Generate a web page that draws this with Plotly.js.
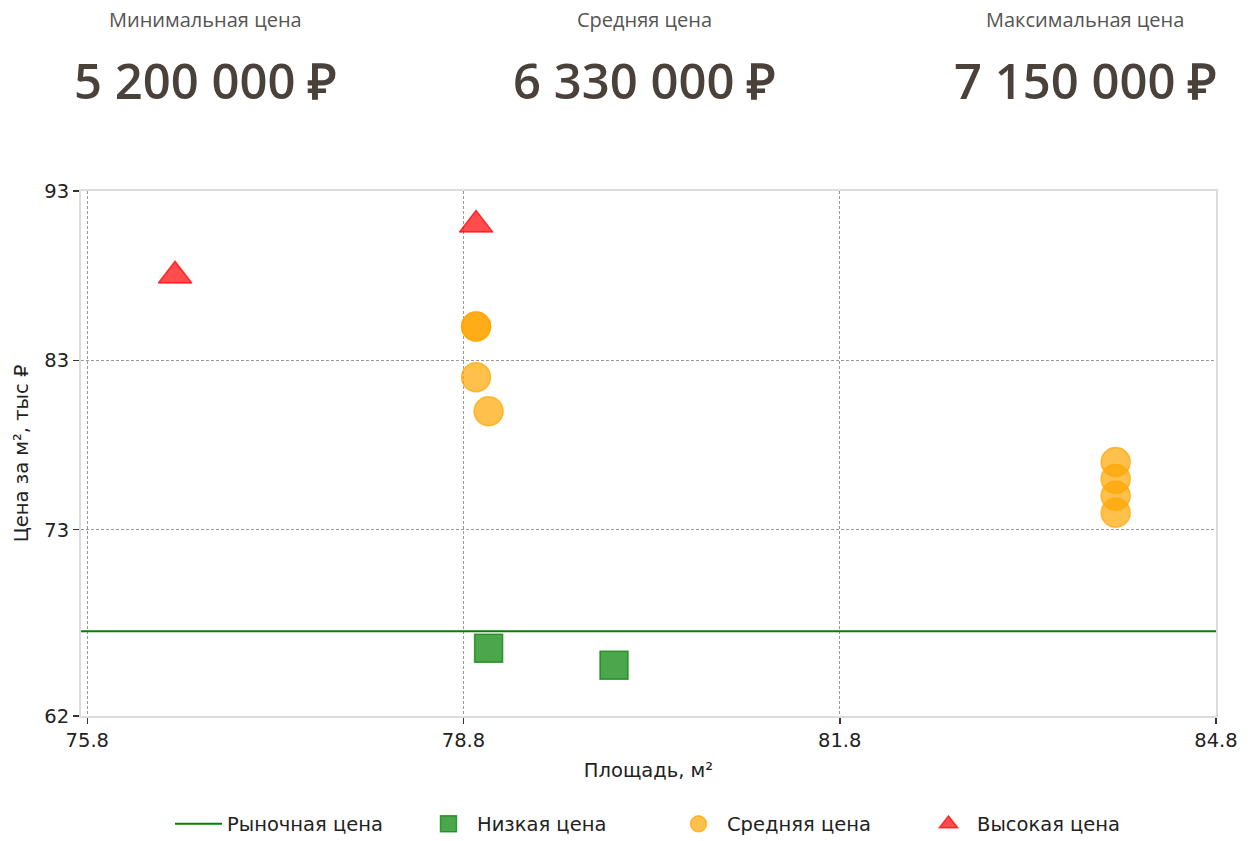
<!DOCTYPE html>
<html>
<head>
<meta charset="utf-8">
<script src="https://cdn.plot.ly/plotly-3.0.1.min.js"></script>
<style>html,body{margin:0;padding:0;background:#fff;}#chart{width:1250px;height:841px;}</style>
</head>
<body>
<div id="chart"></div>
<script>
// ---- data ----
var xRange = [75.75, 84.8];
var yRange = [62, 93];
var xTicks = [75.8, 78.8, 81.8, 84.8];
var yTicks = [62, 73, 83, 93];
var marketPrice = 67;

var lowArea = [79.0, 80.0];
var lowPrice = [66, 65];

var midArea = [78.9, 78.9, 78.9, 79.0, 84.0, 84.0, 84.0, 84.0];
var midPrice = [85, 85, 82, 80, 77, 76, 75, 74];

var highArea = [76.5, 78.9];
var highPrice = [88, 91];

var statLabels = ["Минимальная цена", "Средняя цена", "Максимальная цена"];
var statValues = ["5 200 000 ₽", "6 330 000 ₽", "7 150 000 ₽"];

var seriesNames = ["Рыночная цена", "Низкая цена", "Средняя цена", "Высокая цена"];

// ---- traces ----
var traces = [
  {
    x: xRange, y: [marketPrice, marketPrice], mode: 'lines', name: seriesNames[0],
    line: {color: '#008000', width: 2}, hoverinfo: 'skip'
  },
  {
    x: lowArea, y: lowPrice, mode: 'markers', name: seriesNames[1],
    marker: {symbol: 'square', size: 28, color: 'rgba(0,128,0,0.7)', line: {color: 'rgba(0,128,0,0.7)', width: 1.5}}
  },
  {
    x: midArea, y: midPrice, mode: 'markers', name: seriesNames[2],
    marker: {symbol: 'circle', size: 29, color: 'rgba(255,165,0,0.7)', line: {color: 'rgba(255,165,0,0.7)', width: 1.5}}
  },
  {
    x: highArea, y: highPrice, mode: 'markers', name: seriesNames[3],
    marker: {symbol: 'triangle-up', size: 29, color: 'rgba(255,0,0,0.7)', line: {color: 'rgba(255,0,0,0.7)', width: 1.5}}
  }
];

var colX = [0.1093, 0.4969, 0.8846];
var annotations = [];
for (var i = 0; i < statLabels.length; i++) {
  annotations.push({
    text: statLabels[i], xref: 'paper', yref: 'paper', x: colX[i], y: 1.3276,
    xanchor: 'center', yanchor: 'middle', showarrow: false,
    font: {family: 'Open Sans, sans-serif', size: 20, color: '#555555'}
  });
  annotations.push({
    text: statValues[i], xref: 'paper', yref: 'paper', x: colX[i], y: 1.2115,
    xanchor: 'center', yanchor: 'middle', showarrow: false,
    font: {family: 'Open Sans, sans-serif', size: 49, color: '#4a413b', weight: 600}
  });
}

var axisFont = {family: 'DejaVu Sans, sans-serif', size: 19.5, color: '#222'};

var layout = {
  width: 1250, height: 841,
  margin: {l: 81, r: 34, t: 191, b: 125},
  paper_bgcolor: '#fff', plot_bgcolor: '#fff',
  showlegend: true,
  font: axisFont,
  xaxis: {
    range: xRange, tickvals: xTicks, ticktext: xTicks.map(function(v){return v.toFixed(1);}),
    showgrid: true, gridcolor: '#9a9a9a', griddash: '3px,2px', gridwidth: 1,
    zeroline: false, showline: true, mirror: true, linecolor: '#dcdcdc', linewidth: 2,
    ticks: 'outside', ticklen: 6, tickwidth: 1.5, tickcolor: '#333',
    tickfont: axisFont,
    title: {text: 'Площадь, м²', font: axisFont, standoff: 12}
  },
  yaxis: {
    range: yRange, tickvals: yTicks,
    showgrid: true, gridcolor: '#9a9a9a', griddash: '3px,2px', gridwidth: 1,
    zeroline: false, showline: true, mirror: true, linecolor: '#dcdcdc', linewidth: 2,
    ticks: 'outside', ticklen: 6, tickwidth: 1.5, tickcolor: '#333',
    tickfont: axisFont,
    title: {text: 'Цена за м², тыс ₽', font: axisFont, standoff: 10}
  },
  legend: {
    orientation: 'h', xref: 'container', yref: 'container',
    x: 0.136, y: 0.02, xanchor: 'left', yanchor: 'middle',
    entrywidth: 188, entrywidthmode: 'pixels', itemwidth: 47,
    font: axisFont, itemsizing: 'trace', bgcolor: 'rgba(0,0,0,0)'
  },
  annotations: annotations
};

Plotly.newPlot('chart', traces, layout, {displayModeBar: false, staticPlot: true});
</script>
</body>
</html>
